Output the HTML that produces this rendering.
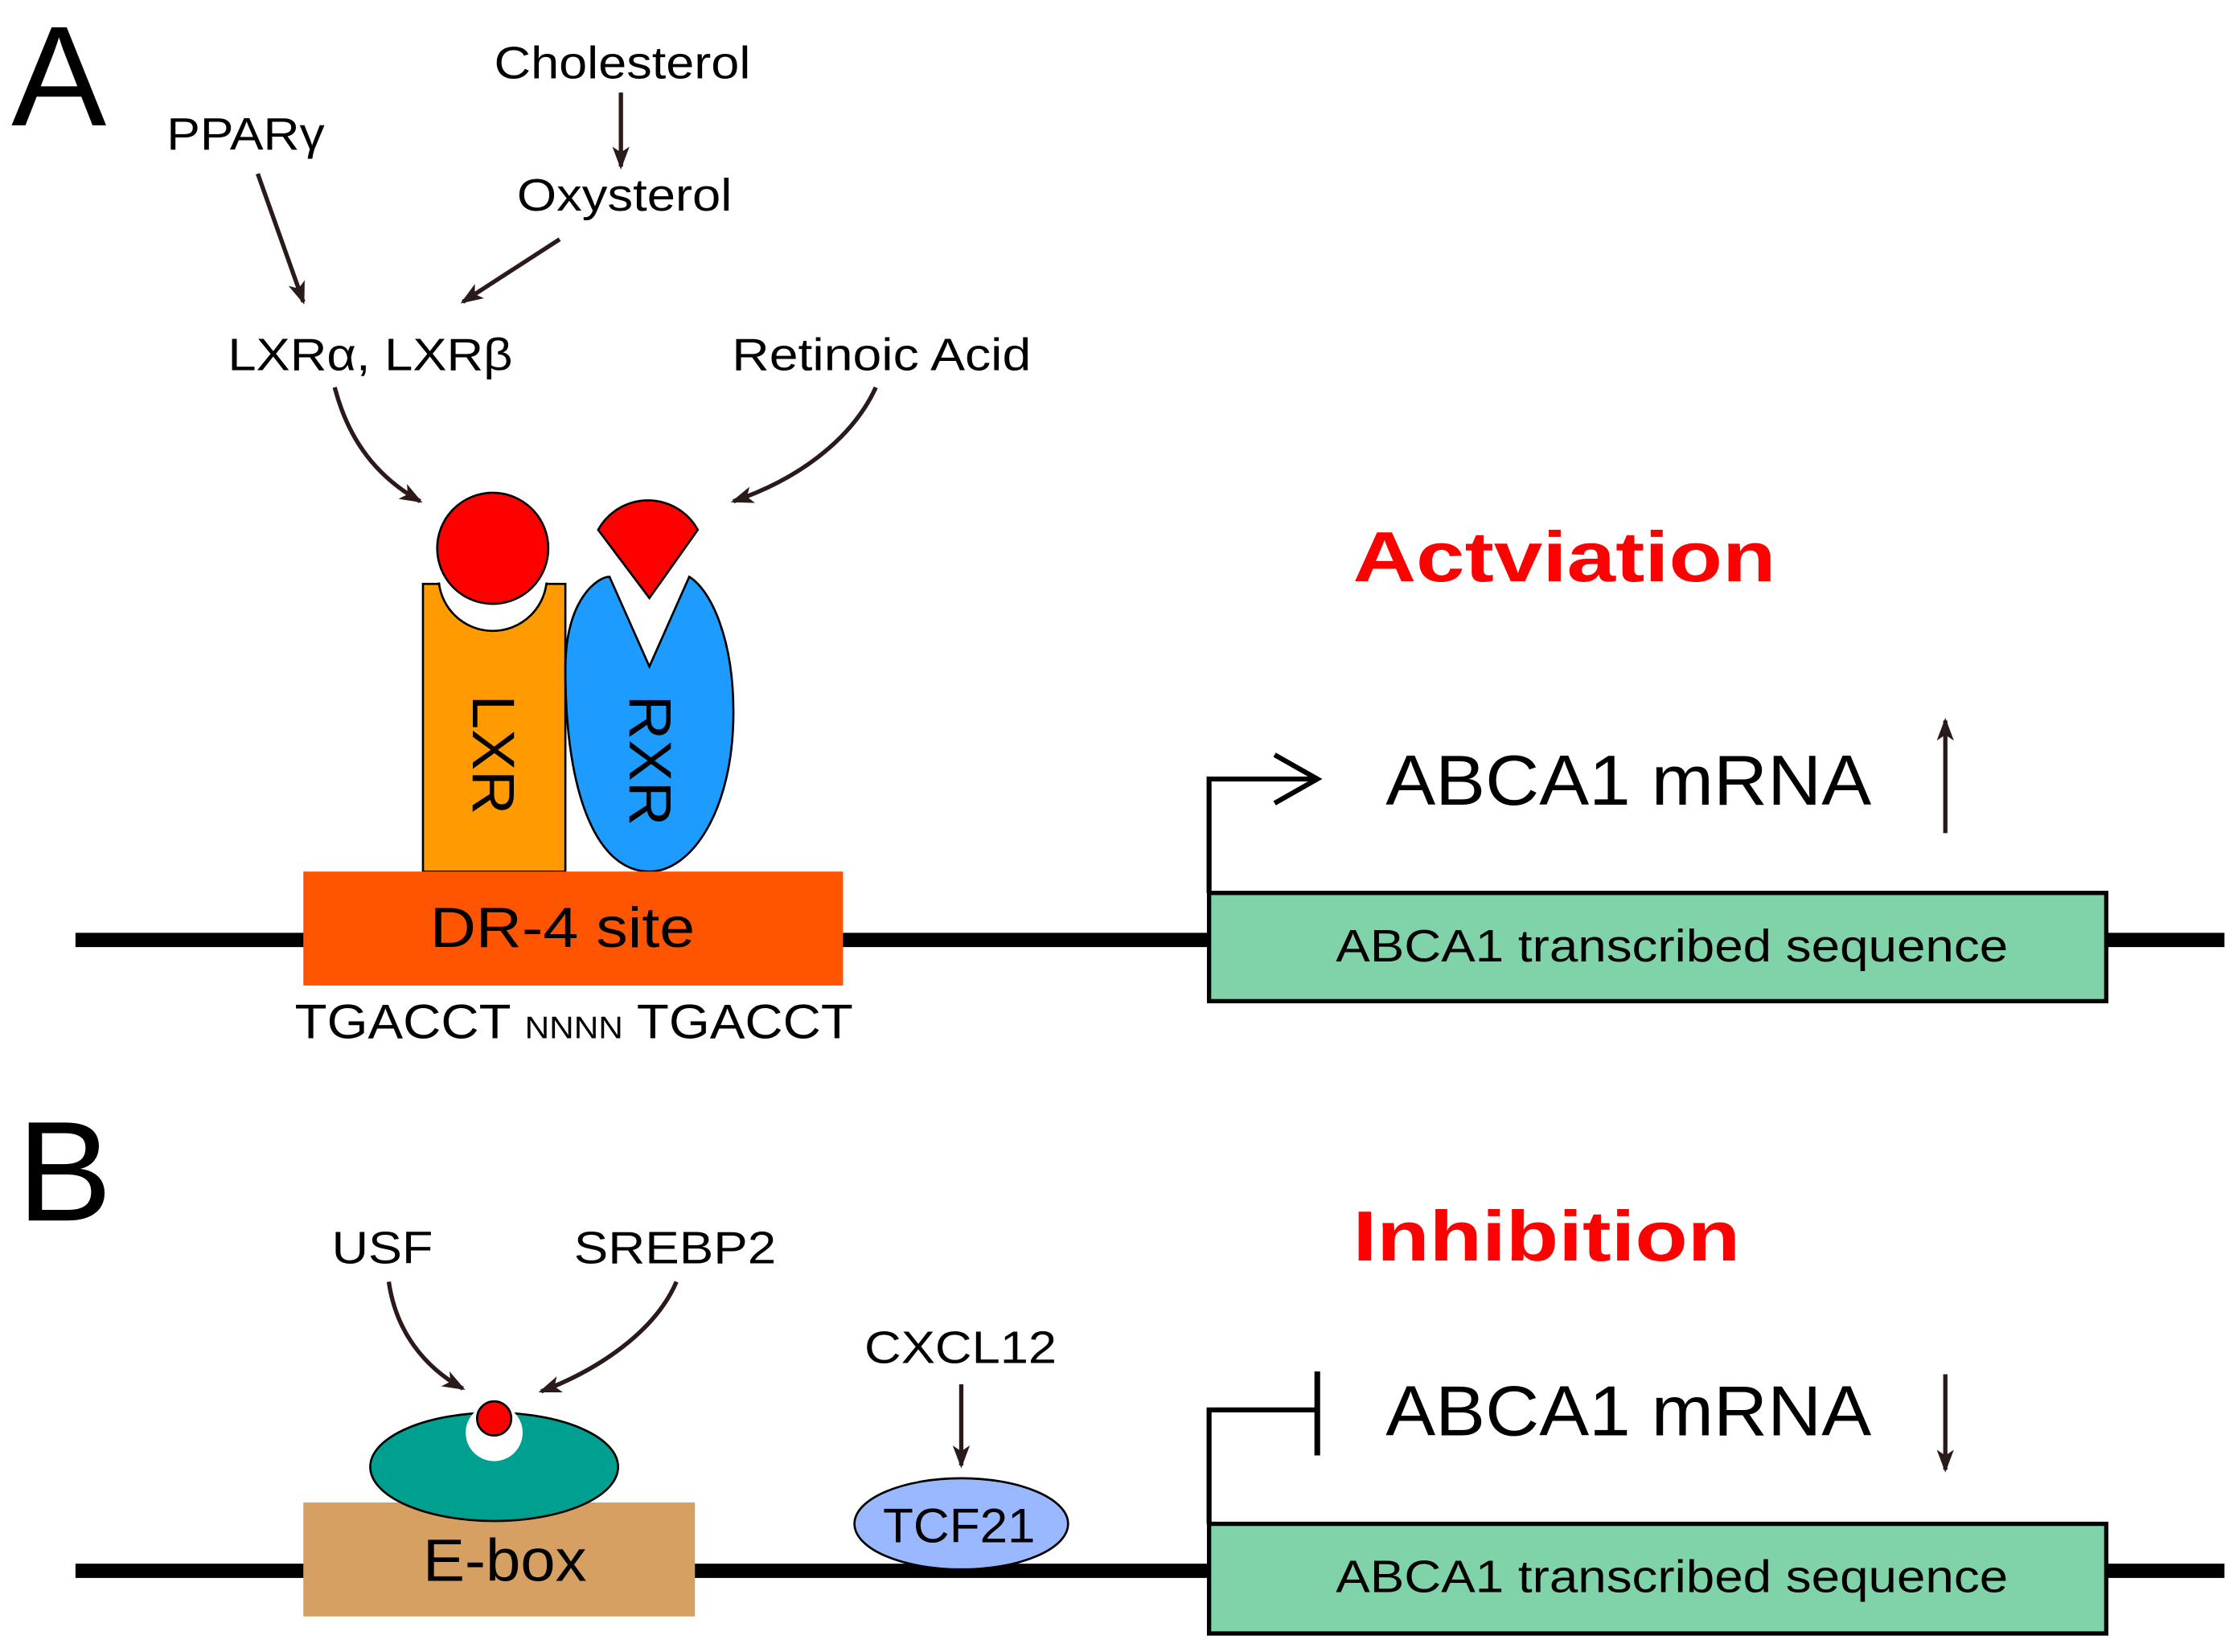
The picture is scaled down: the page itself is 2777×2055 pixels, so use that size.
<!DOCTYPE html>
<html><head><meta charset="utf-8"><style>
html,body{margin:0;padding:0;background:#fff;}
svg{display:block;}
text{font-family:"Liberation Sans","DejaVu Sans",sans-serif;fill:#000;}
</style></head><body>
<svg width="2777" height="2055" viewBox="0 0 1568 1160" preserveAspectRatio="none" xmlns="http://www.w3.org/2000/svg">
<defs>
<marker id="ah" viewBox="0 0 16 12" refX="14" refY="6" markerWidth="16" markerHeight="12" orient="auto" markerUnits="userSpaceOnUse">
<path d="M0,0 L16,6 L0,12 L4,6 Z" fill="#2a1a1a"/>
</marker>
</defs>
<!-- A -->
<text x="8" y="88" font-size="100">A</text>
<text x="117" y="105" font-size="32" textLength="111" lengthAdjust="spacingAndGlyphs">PPARγ</text>
<text x="347" y="55" font-size="32" textLength="180" lengthAdjust="spacingAndGlyphs">Cholesterol</text>
<text x="363" y="148" font-size="32" textLength="151" lengthAdjust="spacingAndGlyphs">Oxysterol</text>
<text x="160" y="260" font-size="32" textLength="200" lengthAdjust="spacingAndGlyphs">LXRα, LXRβ</text>
<text x="514" y="260" font-size="32" textLength="210" lengthAdjust="spacingAndGlyphs">Retinoic Acid</text>
<g stroke="#2a1a1a" stroke-width="3" fill="none" marker-end="url(#ah)">
<line x1="436" y1="65" x2="436" y2="117"/>
<line x1="393" y1="168" x2="325" y2="212"/>
<line x1="181" y1="122" x2="213" y2="212"/>
<path d="M235,272 C245,310 265,335 295,352"/>
<path d="M615,272 C600,305 565,335 515,352"/>
<path d="M273,900 C278,935 298,960 325,975"/>
<path d="M475,900 C460,935 420,962 380,977"/>
<line x1="675" y1="972" x2="675" y2="1029"/>
<line x1="1366" y1="585" x2="1366" y2="506"/>
<line x1="1366" y1="965" x2="1366" y2="1032"/>
</g>
<!-- baseline -->
<line x1="53" y1="660" x2="1562" y2="660" stroke="#000" stroke-width="10"/>
<line x1="53" y1="1103" x2="1562" y2="1103" stroke="#000" stroke-width="10"/>
<!-- LXR -->
<rect x="297" y="410" width="100" height="202" fill="#ff9a00" stroke="#000" stroke-width="1.5"/>
<circle cx="346" cy="405" r="38" fill="#fff" stroke="#000" stroke-width="1.5"/>
<rect x="298" y="395" width="98" height="14" fill="#fff"/>
<circle cx="346" cy="385" r="39" fill="#ff0000" stroke="#000" stroke-width="1.5"/>
<text x="0" y="0" font-size="42" textLength="84" lengthAdjust="spacingAndGlyphs" transform="translate(332,488) rotate(90)">LXR</text>
<!-- RXR -->
<path d="M397,470 C397,420 420,405 428,405 L456,468 L484,405 C500,415 515,450 515,500 C515,570 485,612 456,612 C420,612 397,560 397,470 Z" fill="#1e9bff" stroke="#000" stroke-width="1.5"/>
<path d="M420,372 A40,40 0 0 1 490,372 L456,420 Z" fill="#ff0000" stroke="#000" stroke-width="1.5"/>
<text x="0" y="0" font-size="42" textLength="92" lengthAdjust="spacingAndGlyphs" transform="translate(442,488) rotate(90)">RXR</text>
<!-- DR-4 -->
<rect x="213" y="612" width="379" height="80" fill="#ff5500"/>
<text x="302" y="665" font-size="40" textLength="186" lengthAdjust="spacingAndGlyphs">DR-4 site</text>
<text x="207" y="729" font-size="34" textLength="392" lengthAdjust="spacingAndGlyphs">TGACCT <tspan font-size="22">NNNN</tspan> TGACCT</text>
<!-- activation -->
<text x="950" y="408" font-size="50" font-weight="bold" style="fill:#ff0000" textLength="297" lengthAdjust="spacingAndGlyphs">Actviation</text>
<polyline points="849,627 849,547 925,547" fill="none" stroke="#000" stroke-width="3.5"/>
<polyline points="895,530 925,547 895,564" fill="none" stroke="#000" stroke-width="3.5"/>
<text x="973" y="565" font-size="50" textLength="341" lengthAdjust="spacingAndGlyphs">ABCA1 mRNA</text>
<rect x="849" y="627" width="630" height="76" fill="#80d2a8" stroke="#000" stroke-width="3"/>
<text x="938" y="675" font-size="32" textLength="472" lengthAdjust="spacingAndGlyphs">ABCA1 transcribed sequence</text>
<!-- B -->
<text x="12" y="857" font-size="100">B</text>
<text x="233" y="887" font-size="32" textLength="71" lengthAdjust="spacingAndGlyphs">USF</text>
<text x="403" y="887" font-size="32" textLength="142" lengthAdjust="spacingAndGlyphs">SREBP2</text>
<text x="607" y="957" font-size="32" textLength="135" lengthAdjust="spacingAndGlyphs">CXCL12</text>
<rect x="213" y="1055" width="275" height="80" fill="#d5a062"/>
<text x="297" y="1110" font-size="42" textLength="115" lengthAdjust="spacingAndGlyphs">E-box</text>
<ellipse cx="347" cy="1030" rx="87" ry="38" fill="#00a090" stroke="#000" stroke-width="1.5"/>
<circle cx="347" cy="1006" r="20" fill="#fff"/>
<circle cx="347" cy="996" r="12" fill="#ff0000" stroke="#000" stroke-width="1.5"/>
<ellipse cx="675" cy="1070" rx="75" ry="32" fill="#99b8ff" stroke="#000" stroke-width="1.5"/>
<text x="620" y="1083" font-size="34" textLength="107" lengthAdjust="spacingAndGlyphs">TCF21</text>
<text x="950" y="885" font-size="50" font-weight="bold" style="fill:#ff0000" textLength="272" lengthAdjust="spacingAndGlyphs">Inhibition</text>
<polyline points="849,1070 849,990 925,990" fill="none" stroke="#000" stroke-width="3.5"/>
<line x1="925" y1="963" x2="925" y2="1022" stroke="#000" stroke-width="4"/>
<text x="973" y="1008" font-size="50" textLength="341" lengthAdjust="spacingAndGlyphs">ABCA1 mRNA</text>
<rect x="849" y="1070" width="630" height="77" fill="#80d2a8" stroke="#000" stroke-width="3"/>
<text x="938" y="1118" font-size="32" textLength="472" lengthAdjust="spacingAndGlyphs">ABCA1 transcribed sequence</text>
</svg>
</body></html>
